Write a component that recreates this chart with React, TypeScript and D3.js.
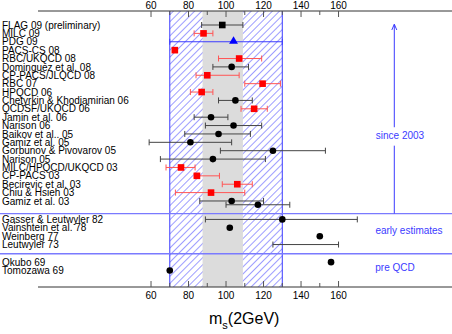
import React from 'react'
import * as d3 from 'd3'

// since 2003 / early estimates / pre QCD results, ms(2GeV) in MeV
const labels = [
  'FLAG 09 (preliminary)', 'MILC 09', 'PDG 09', 'PACS-CS 08', 'RBC/UKQCD 08',
  'Dominguez et al. 08', 'CP-PACS/JLQCD 08', 'RBC 07', 'HPQCD 06',
  'Chetyrkin & Khodjamirian 06', 'QCDSF/UKQCD 06', 'Jamin et al. 06', 'Narison 06',
  'Baikov et al.. 05', 'Gamiz et al. 05', 'Gorbunov & Pivovarov 05', 'Narison 05',
  'MILC/HPQCD/UKQCD 03', 'CP-PACS 03', 'Becirevic et al. 03', 'Chiu & Hsieh 03',
  'Gamiz et al. 03', '',
  'Gasser & Leutwyler 82', 'Vainshtein et al. 78', 'Weinberg 77', 'Leutwyler 73',
  'Okubo 69', 'Tomozawa 69',
]
const slots = [
  0, 1, 2, 3, 4, 5, 6, 7, 8, 9, 10, 11, 12, 13, 14, 15, 16, 17, 18, 19, 20, 21, 21.45,
  23.2, 24.2, 25.2, 26.2,
  28.3, 29.3,
]
const values = [
  98, 88, 104, 72.7, 107, 103, 90, 119.5, 87, 105, 115, 92, 104, 96, 81, 125, 93,
  76, 84.5, 106, 92, 103, 117,
  130, 102, 150, null,
  156, 70,
]
const lows = [
  87, 83, 70, 72, 96, 93, 84, 110, 81, 96, 108, 83, 89, 78, 59, 97, 65,
  68, 83, 98, 73, 86, 100,
  89, null, null, 125,
  null, null,
]
const highs = [
  109, 93, 130, 73.5, 119, 112, 107, 129, 93, 114, 122, 101, 119, 113, 103, 153, 121,
  83.5, 96.5, 114, 110, 120, 134,
  170, null, null, 160,
  null, null,
]
// l = lattice (red square), p = phenomenology (black dot), f = FLAG, d = PDG
const kinds = [
  'f', 'l', 'd', 'l', 'l', 'p', 'l', 'l', 'l', 'p', 'l', 'p', 'p', 'p', 'p', 'p', 'p',
  'l', 'l', 'l', 'l', 'p', 'p',
  'p', 'p', 'p', 'p',
  'p', 'p',
]
const separators = [22.5, 27.3]
const groups = ['since 2003', 'early estimates', 'pre QCD']
const groupSlots = [13.2, 24.55, 28.9]
const groupX = [400, 409, 395]

const tickValues = d3.range(60, 161, 10)
const pdgBand = [70, 130]
const flagBand = [87.5, 109]

const W = 452
const H = 334

export default function App() {
  const x = d3.scaleLinear().domain([0, 220.5]).range([38.5, 452])
  const y = d3.scaleLinear().domain([0, 1]).range([25, 33.38])
  const top = 11
  const bottom = 287
  const font = 'Liberation Sans, Arial, Helvetica, sans-serif'
  const blue = '#3b3bff'

  const axis = (y0: number, dir: number, labelY: number) => (
    <g>
      <line x1={38} x2={W} y1={y0} y2={y0} stroke="#333" strokeWidth={1} />
      {tickValues.map((t) => {
        const major = t % 20 === 0
        return (
          <g key={t}>
            <line x1={x(t)} x2={x(t)} y1={y0} y2={y0 + dir * (major ? 6 : 4)} stroke="#555" strokeWidth={1} />
            {major && (
              <text x={x(t)} y={labelY} textAnchor="middle" fontSize={10} fontFamily={font} fill="#000">
                {t}
              </text>
            )}
          </g>
        )
      })}
    </g>
  )

  return (
    <svg width={W} height={H} style={{ position: 'absolute', left: 0, top: 0, background: '#fff' }}>
      <defs>
        <pattern id="hatch" patternUnits="userSpaceOnUse" width={5} height={5} patternTransform="rotate(45)">
          <line x1={0} y1={0} x2={0} y2={5} stroke="#4a4aff" strokeWidth={1.1} />
        </pattern>
      </defs>

      {/* PDG hatched band and FLAG grey band */}
      <rect x={x(pdgBand[0])} y={top} width={x(pdgBand[1]) - x(pdgBand[0])} height={bottom - top} fill="#fff" />
      <rect x={x(pdgBand[0])} y={top} width={x(pdgBand[1]) - x(pdgBand[0])} height={bottom - top} fill="url(#hatch)" />
      <rect x={x(flagBand[0])} y={top} width={x(flagBand[1]) - x(flagBand[0])} height={bottom - top} fill="#dcdcdc" />
      {pdgBand.map((v) => (
        <line key={v} x1={x(v)} x2={x(v)} y1={top} y2={bottom} stroke={blue} strokeWidth={1} />
      ))}

      {separators.map((s) => (
        <line key={s} x1={0} x2={W} y1={y(s)} y2={y(s)} stroke="#7a7aff" strokeWidth={1.3} />
      ))}

      {axis(top, 1, 8.5)}
      {axis(bottom, -1, 298.5)}

      {labels.map((l, i) => (
        <text key={'l' + i} x={2} y={y(slots[i])} dy="0.36em" fontSize={10} fontFamily={font} fill="#000">
          {l}
        </text>
      ))}

      {labels.map((l, i) => {
        const yy = y(slots[i])
        const lo = lows[i]
        const hi = highs[i]
        const v = values[i]
        const k = kinds[i]
        const barColor = k === 'l' ? '#ff5555' : k === 'd' ? blue : '#444'
        return (
          <g key={'p' + i}>
            {lo != null && hi != null && (
              <g stroke={barColor} strokeWidth={1}>
                <line x1={x(lo)} x2={x(hi)} y1={yy} y2={yy} />
                <line x1={x(lo)} x2={x(lo)} y1={yy - 3} y2={yy + 3} />
                <line x1={x(hi)} x2={x(hi)} y1={yy - 3} y2={yy + 3} />
              </g>
            )}
            {v != null && k === 'p' && <circle cx={x(v)} cy={yy} r={3.3} fill="#000" />}
            {v != null && k === 'l' && <rect x={x(v) - 3.3} y={yy - 3.3} width={6.6} height={6.6} fill="#ff0000" />}
            {v != null && k === 'f' && <rect x={x(v) - 3.3} y={yy - 3.3} width={6.6} height={6.6} fill="#000" />}
            {v != null && k === 'd' && (
              <path d={d3.symbol(d3.symbolTriangle, 34)() ?? ''} transform={`translate(${x(v)},${yy - 0.5})`} fill="#0000ff" />
            )}
          </g>
        )
      })}

      {/* group annotations */}
      <line x1={394.3} x2={394.3} y1={24.5} y2={y(12.2)} stroke={blue} strokeWidth={1} />
      <line x1={394.3} x2={394.3} y1={y(14.4)} y2={y(separators[0])} stroke={blue} strokeWidth={1} />
      <path d="M391.8,30 L394.3,24.2 L396.8,30" fill="none" stroke={blue} strokeWidth={1} />
      {groups.map((g, i) => (
        <text key={g} x={groupX[i]} y={y(groupSlots[i])} dy="0.36em" textAnchor="middle" fontSize={10} fontFamily={font} fill={blue}>
          {g}
        </text>
      ))}

      <text x={209} y={324} fontSize={16} fontFamily={font} fill="#000">
        m<tspan dy={5} fontSize={11}>s</tspan>
        <tspan dy={-5}>(2GeV)</tspan>
      </text>
    </svg>
  )
}
